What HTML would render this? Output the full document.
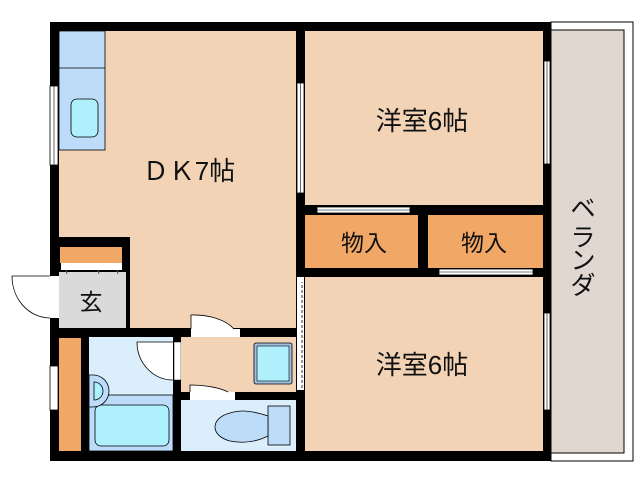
<!DOCTYPE html>
<html><head><meta charset="utf-8"><style>
html,body{margin:0;padding:0;background:#fff;width:638px;height:480px;overflow:hidden}
svg{display:block}
text{font-family:"Liberation Sans","Noto Sans CJK JP",sans-serif;fill:#111}
</style></head><body>
<svg width="638" height="480" viewBox="0 0 638 480" xmlns="http://www.w3.org/2000/svg">
<rect x="551" y="22" width="82" height="439" fill="#fff" stroke="#000" stroke-width="1"/>
<rect x="551" y="30" width="73" height="423" fill="#e0d7d0" stroke="#000" stroke-width="1"/>
<rect x="50" y="22" width="501" height="439" fill="#000"/>
<rect x="59" y="31" width="237" height="206" fill="#f2d3b6"/>
<rect x="130" y="237" width="166" height="91" fill="#f2d3b6"/>
<rect x="59" y="31" width="46" height="119" fill="#bcdcfa" stroke="#000" stroke-width="0.8"/>
<line x1="59" y1="68" x2="105" y2="68" stroke="#000" stroke-width="0.8"/>
<rect x="71" y="99" width="27" height="38" rx="6" fill="#aef0fc" stroke="#000" stroke-width="0.8"/>
<rect x="60" y="247" width="62" height="16" fill="#f1a766"/>
<rect x="61" y="263" width="61" height="7" fill="#fff"/>
<rect x="59" y="272" width="67" height="56" fill="#dadada"/>
<path d="M66 270 l1 4 M98 270 l1 4 M117 270 l1 4" stroke="#555"/>
<text x="91" y="310" font-size="23" text-anchor="middle">玄</text>
<rect x="50" y="276" width="9" height="42" fill="#fff"/>
<path d="M50 276 H12 A38 42 0 0 0 50 318" fill="#fff" stroke="#000" stroke-width="0.8"/>
<rect x="50" y="86" width="8" height="79" fill="#fff" stroke="#000" stroke-width="0.8"/>
<line x1="54" y1="86" x2="54" y2="165" stroke="#000" stroke-width="0.6"/>
<rect x="59" y="338" width="22" height="113" fill="#f1a766"/>
<rect x="50" y="366" width="8" height="44" fill="#fff" stroke="#000" stroke-width="0.8"/>
<rect x="89" y="337" width="84" height="114" fill="#dbeefc"/>
<rect x="89" y="395" width="84" height="56" fill="#bcdcfa" stroke="#000" stroke-width="0.8"/>
<rect x="95" y="405" width="74" height="41" rx="6" fill="#aef0fc" stroke="#000" stroke-width="0.8"/>
<path d="M89 375 h4 a16 16 0 0 1 0 32 h-4z" fill="#bcdcfa" stroke="#000" stroke-width="0.8"/>
<path d="M94 382 v18 a9 9 0 0 0 0 -18z" fill="#aef0fc" stroke="#000" stroke-width="0.8"/>
<path d="M173 342 H137 A36 38 0 0 0 173 380" fill="#fff" stroke="#000" stroke-width="0.8"/>
<rect x="174" y="342" width="7" height="38" fill="#fff" stroke="#000" stroke-width="0.5"/>
<rect x="181" y="337" width="115" height="55" fill="#f2d3b6"/>
<rect x="254" y="343" width="38" height="41" rx="2" fill="#9fc0e0" stroke="#000" stroke-width="0.8"/>
<rect x="257" y="346" width="32" height="35" fill="#aef0fc" stroke="#000" stroke-width="0.6"/>
<rect x="191" y="329" width="49" height="8" fill="#fff"/>
<path d="M191 329 V315 A45 25 0 0 1 234 329" fill="#fff" stroke="#000" stroke-width="0.8"/>
<rect x="181" y="400" width="115" height="51" fill="#dbeefc"/>
<rect x="190" y="392" width="45" height="8" fill="#fff"/>
<path d="M190 392 V385 A45 14 0 0 1 228 392" fill="#fff" stroke="#000" stroke-width="0.8"/>
<rect x="268" y="406" width="22" height="39" fill="#bcdcfa" stroke="#000" stroke-width="0.8"/>
<path d="M268 416 C250 410 240 410 230 413 C210 418 210 436 230 441 C245 444 258 441 268 436Z" fill="#bcdcfa" stroke="#000" stroke-width="0.8"/>
<rect x="297" y="280" width="7" height="110" fill="#fff"/>
<line x1="302" y1="280" x2="302" y2="390" stroke="#000" stroke-width="0.8" stroke-dasharray="3,2"/>
<rect x="305" y="31" width="238" height="174" fill="#f2d3b6"/>
<text x="422" y="130" font-size="26" text-anchor="middle">洋室6帖</text>
<rect x="297" y="83" width="7" height="110" fill="#fff" stroke="#000" stroke-width="0.8"/>
<line x1="300.5" y1="83" x2="300.5" y2="193" stroke="#000" stroke-width="0.6"/>
<rect x="297" y="277" width="7" height="5" fill="#fff"/>
<rect x="305" y="215" width="113" height="53" fill="#f1a766"/>
<rect x="428" y="215" width="115" height="53" fill="#f1a766"/>
<text x="364" y="251" font-size="23" text-anchor="middle">物入</text>
<text x="484" y="251" font-size="23" text-anchor="middle">物入</text>
<rect x="317" y="207" width="93" height="6" fill="#fff" stroke="#000" stroke-width="0.8"/>
<line x1="317" y1="210" x2="410" y2="210" stroke="#000" stroke-width="0.6"/>
<rect x="439" y="269" width="94" height="6" fill="#fff" stroke="#000" stroke-width="0.8"/>
<line x1="439" y1="272" x2="533" y2="272" stroke="#000" stroke-width="0.6"/>
<rect x="305" y="277" width="238" height="174" fill="#f2d3b6"/>
<text x="422" y="374" font-size="26" text-anchor="middle">洋室6帖</text>
<rect x="544" y="61" width="6" height="103" fill="#fff" stroke="#000" stroke-width="0.8"/>
<line x1="547" y1="61" x2="547" y2="164" stroke="#000" stroke-width="0.6"/>
<rect x="544" y="313" width="6" height="97" fill="#fff" stroke="#000" stroke-width="0.8"/>
<line x1="547" y1="313" x2="547" y2="410" stroke="#000" stroke-width="0.6"/>
<text x="189" y="180" font-size="26" text-anchor="middle">ＤＫ7帖</text>
<text x="583" y="217" font-size="25" text-anchor="middle">ベ</text>
<text x="583" y="246" font-size="25" text-anchor="middle">ラ</text>
<text x="583" y="269" font-size="25" text-anchor="middle">ン</text>
<text x="583" y="294" font-size="25" text-anchor="middle">ダ</text>
</svg>
</body></html>
